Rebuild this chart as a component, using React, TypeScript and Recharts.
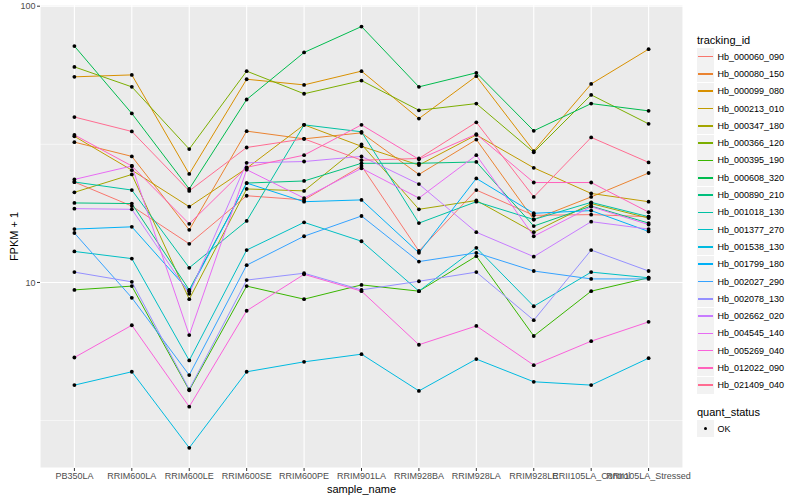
import { LineChart, Line, XAxis, YAxis, CartesianGrid, Legend, ReferenceLine } from 'recharts';

// sample columns on the x axis
const samples = [
  'PB350LA', 'RRIM600LA', 'RRIM600LE', 'RRIM600SE', 'RRIM600PE', 'RRIM901LA',
  'RRIM928BA', 'RRIM928LA', 'RRIM928LE', 'RRII105LA_Control', 'RRII105LA_Stressed',
];

const trackingIds = [
  'Hb_000060_090', 'Hb_000080_150', 'Hb_000099_080', 'Hb_000213_010', 'Hb_000347_180',
  'Hb_000366_120', 'Hb_000395_190', 'Hb_000608_320', 'Hb_000890_210', 'Hb_001018_130',
  'Hb_001377_270', 'Hb_001538_130', 'Hb_001799_180', 'Hb_002027_290', 'Hb_002078_130',
  'Hb_002662_020', 'Hb_004545_140', 'Hb_005269_040', 'Hb_012022_090', 'Hb_021409_040',
];

// ggplot hue palette, 20 levels
const palette = [
  '#F8766D', '#EA8331', '#D89000', '#C09B00', '#A3A500', '#7CAE00', '#39B600', '#00BB4E',
  '#00BF7D', '#00C1A3', '#00BFC4', '#00BAE0', '#00B0F6', '#35A2FF', '#9590FF', '#C77CFF',
  '#E76BF3', '#FA62DB', '#FF62BC', '#FF6C91',
];

// FPKM + 1 per sample (same order as samples)
const hb000060_090 = [23.1, 18.9, 13.8, 20.6, 19.9, 26.4, 13.0, 21.6, 17.5, 17.6, 17.3];
const hb000080_150 = [32.2, 28.6, 15.5, 35.3, 33.1, 34.8, 24.6, 32.9, 16.9, 20.4, 24.9];
const hb000099_080 = [55.5, 56.4, 24.7, 54.4, 51.9, 58.2, 39.2, 55.8, 29.9, 52.3, 69.9];
const hb000213_010 = [33.8, 25.5, 18.8, 25.9, 37.2, 31.1, 26.6, 34.2, 26.0, 21.0, 19.6];
const hb000347_180 = [21.2, 24.6, 8.7, 21.8, 21.45, 31.6, 18.4, 19.8, 15.2, 19.3, 17.1];
const hb000366_120 = [60.3, 51.05, 30.4, 58.2, 48.2, 53.8, 42.0, 44.4, 29.6, 47.75, 37.5];
const hb000395_190 = [9.4, 9.7, 4.07, 9.7, 8.7, 9.8, 9.3, 12.45, 6.4, 9.3, 10.4];
const hb000608_320 = [71.7, 40.9, 21.8, 45.95, 68.0, 84.4, 51.05, 57.4, 35.4, 44.4, 41.8];
const hb000890_210 = [19.4, 19.3, 9.4, 22.9, 23.3, 27.0, 27.0, 27.3, 16.0, 18.9, 16.4];
const hb001018_130 = [23.1, 21.6, 11.3, 16.7, 37.2, 35.1, 16.4, 19.6, 16.9, 19.5, 17.3];
const hb001377_270 = [12.95, 12.2, 5.22, 13.1, 16.5, 14.1, 9.3, 13.35, 8.2, 10.9, 10.4];
const hb001538_130 = [4.25, 4.75, 2.52, 4.75, 5.16, 5.5, 4.05, 5.28, 4.37, 4.25, 5.32];
const hb001799_180 = [15.6, 15.9, 9.3, 22.9, 19.6, 19.9, 12.8, 23.8, 17.8, 18.2, 15.3];
const hb002027_290 = [15.1, 8.8, 4.62, 11.55, 14.7, 17.4, 11.9, 12.8, 11.0, 10.3, 10.3];
const hb002078_130 = [10.9, 10.05, 4.1, 10.2, 10.8, 9.4, 10.1, 10.9, 7.3, 13.1, 11.0];
const hb002662_020 = [18.5, 18.4, 9.1, 27.1, 27.4, 28.6, 22.7, 15.2, 12.4, 16.6, 15.6];
const hb004545_140 = [23.6, 26.4, 6.45, 25.6, 20.2, 25.9, 20.2, 28.9, 14.7, 18.8, 16.2];
const hb005269_040 = [5.35, 7.0, 3.55, 7.9, 10.7, 9.3, 5.95, 6.96, 5.02, 6.13, 7.2];
const hb012022_090 = [34.2, 26.4, 16.3, 26.1, 28.9, 37.2, 27.9, 34.4, 23.0, 23.0, 17.97];
const hb021409_040 = [39.7, 35.2, 21.45, 30.8, 33.1, 27.7, 28.1, 38.0, 20.4, 33.5, 27.2];

const seriesValues = [
  hb000060_090, hb000080_150, hb000099_080, hb000213_010, hb000347_180,
  hb000366_120, hb000395_190, hb000608_320, hb000890_210, hb001018_130,
  hb001377_270, hb001538_130, hb001799_180, hb002027_290, hb002078_130,
  hb002662_020, hb004545_140, hb005269_040, hb012022_090, hb021409_040,
];

const majorTicks = [10, 100];
const minorTicks = [3.1623, 31.623];

const rows = samples.map((sample, i) => {
  const row: Record<string, string | number> = { sample };
  trackingIds.forEach((id, j) => {
    row[id] = seriesValues[j][i];
  });
  return row;
});

const FONT = '"Liberation Sans", Arial, Helvetica, sans-serif';

const dot = (props: any) => {
  const { cx, cy, index, dataKey } = props;
  if (cx == null || cy == null) return <g key={`${dataKey}-${index}`} />;
  return <circle key={`${dataKey}-${index}`} cx={cx} cy={cy} r={1.9} fill="#000" />;
};

function GgLegend() {
  const key = {
    width: 17,
    height: 17,
    background: '#F2F2F2',
    position: 'relative' as const,
    flex: 'none',
  };
  return (
    <div style={{ fontFamily: FONT, color: '#000', width: 110 }}>
      <div style={{ fontSize: 11, lineHeight: '15px', height: 15 }}>tracking_id</div>
      {trackingIds.map((id, i) => (
        <div key={id} style={{ display: 'flex', alignItems: 'center', height: 17.3 }}>
          <div style={key}>
            <div
              style={{
                position: 'absolute', left: 1, right: 1, top: 7.7, height: 1.6,
                background: palette[i],
              }}
            />
          </div>
          <span style={{ fontSize: 9, marginLeft: 3.5, whiteSpace: 'nowrap' }}>{id}</span>
        </div>
      ))}
      <div style={{ fontSize: 11, lineHeight: '15px', height: 15, marginTop: 11 }}>quant_status</div>
      <div style={{ display: 'flex', alignItems: 'center', height: 17.3 }}>
        <div style={key}>
          <div
            style={{
              position: 'absolute', left: 6.6, top: 6.6, width: 3.8, height: 3.8,
              borderRadius: '50%', background: '#000',
            }}
          />
        </div>
        <span style={{ fontSize: 9, marginLeft: 3.5 }}>OK</span>
      </div>
    </div>
  );
}

export default function App() {
  return (
    <div style={{ width: 800, height: 500, background: '#fff', fontFamily: FONT, position: 'relative' }}>
      <style>{'body{margin:0}'}</style>
      <LineChart
        width={800}
        height={500}
        data={rows}
        margin={{ top: 5, right: 117, bottom: 0, left: 0 }}
      >
        <CartesianGrid fill="#EBEBEB" stroke="#FFFFFF" strokeWidth={1.1} />
        {minorTicks.map((v) => (
          <ReferenceLine key={v} y={v} stroke="#FFFFFF" strokeWidth={0.55} />
        ))}
        <XAxis
          dataKey="sample"
          interval={0}
          padding={{ left: 34.4, right: 34.4 }}
          axisLine={false}
          tickSize={3}
          tickMargin={2}
          tickLine={{ stroke: '#333333' }}
          tick={{ fontSize: 9, fill: '#4D4D4D' }}
          height={32}
          label={{ value: 'sample_name', position: 'insideBottom', offset: 7, fontSize: 11, fill: '#000' }}
        />
        <YAxis
          type="number"
          scale="log"
          domain={[2.13, 101]}
          allowDataOverflow
          ticks={majorTicks}
          width={40}
          axisLine={false}
          tickSize={3}
          tickMargin={1.5}
          tickLine={{ stroke: '#333333' }}
          tick={{ fontSize: 9, fill: '#4D4D4D' }}
          label={{
            value: 'FPKM + 1', angle: -90, position: 'insideLeft', offset: 14,
            fontSize: 11, fill: '#000', style: { textAnchor: 'middle' },
          }}
        />
        <Legend
          layout="vertical"
          align="center"
          verticalAlign="middle"
          wrapperStyle={{ position: 'absolute', left: 697, top: 33, width: 110, height: 'auto' }}
          content={() => <GgLegend />}
        />
        {trackingIds.map((id, i) => (
          <Line
            key={id}
            type="linear"
            dataKey={id}
            stroke={palette[i]}
            strokeWidth={1}
            dot={false}
            activeDot={false}
            isAnimationActive={false}
          />
        ))}
        {trackingIds.map((id) => (
          <Line
            key={`${id}-pts`}
            type="linear"
            dataKey={id}
            stroke="none"
            legendType="none"
            dot={dot}
            activeDot={false}
            isAnimationActive={false}
          />
        ))}
      </LineChart>
    </div>
  );
}
